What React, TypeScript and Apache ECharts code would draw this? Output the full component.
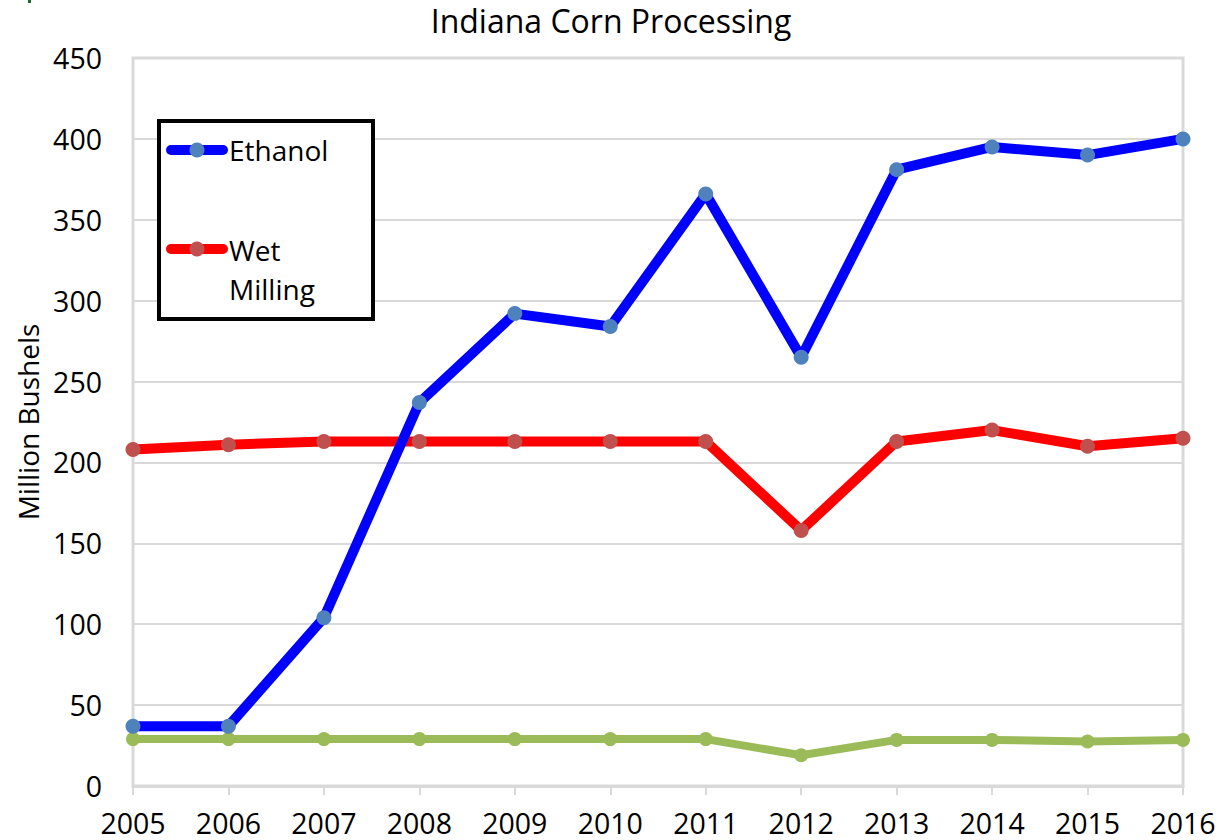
import React, { useEffect, useRef } from "react";
import * as echarts from "echarts";

const years = ["2005", "2006", "2007", "2008", "2009", "2010", "2011", "2012", "2013", "2014", "2015", "2016"];
const ethanol = [37, 37, 104, 237, 292, 284, 366, 265, 381, 395, 390, 400];
const wetMilling = [208, 211, 213, 213, 213, 213, 213, 158, 213, 220, 210, 215];
const other = [29, 29, 29, 29, 29, 29, 29, 19, 28.5, 28.5, 27.5, 28.5];
const seriesNames = ["Ethanol", "Wet Milling", "Other"];
const FONT = "'Open Sans', 'Noto Sans', sans-serif";

export default function App() {
  const ref = useRef<HTMLDivElement>(null);
  useEffect(() => {
    const chart = echarts.init(ref.current!, undefined, { renderer: "svg" });
    const gray = "#D9D9D9";
    chart.setOption({
      animation: false,
      backgroundColor: "#ffffff",
      textStyle: { fontFamily: FONT },
      title: {
        text: "Indiana Corn Processing",
        left: 606,
        textAlign: "center",
        top: -1,
        textStyle: { fontFamily: FONT, fontSize: 32, fontWeight: "normal", color: "#000" },
      },
      grid: {
        left: 133,
        right: 40,
        top: 58,
        bottom: 54,
        show: true,
        borderColor: gray,
        borderWidth: 3,
        containLabel: false,
      },
      xAxis: {
        type: "category",
        data: years,
        boundaryGap: false,
        axisLine: { lineStyle: { color: gray, width: 3 } },
        axisTick: { show: true, length: 9, lineStyle: { color: gray, width: 2 } },
        axisLabel: { color: "#000", fontSize: 28.5, fontFamily: FONT, margin: 22 },
        splitLine: { show: false },
      },
      yAxis: {
        type: "value",
        min: 0,
        max: 450,
        interval: 50,
        name: "Million Bushels",
        nameLocation: "middle",
        nameGap: 88,
        nameTextStyle: { color: "#000", fontSize: 28, fontFamily: FONT },
        axisLine: { show: false },
        axisTick: { show: false },
        axisLabel: { color: "#000", fontSize: 28.5, fontFamily: FONT, margin: 31 },
        splitLine: { lineStyle: { color: gray, width: 2 } },
      },
      series: [
        {
          name: seriesNames[0],
          type: "line",
          data: ethanol,
          symbol: "circle",
          symbolSize: 15,
          lineStyle: { color: "#0000FF", width: 10 },
          itemStyle: { color: "#4F81BD" },
          z: 3,
        },
        {
          name: seriesNames[1],
          type: "line",
          data: wetMilling,
          symbol: "circle",
          symbolSize: 15,
          lineStyle: { color: "#FF0000", width: 10 },
          itemStyle: { color: "#C0504D" },
          z: 2,
        },
        {
          name: seriesNames[2],
          type: "line",
          data: other,
          symbol: "circle",
          symbolSize: 14,
          lineStyle: { color: "#9BBB59", width: 8 },
          itemStyle: { color: "#9BBB59" },
          z: 2,
        },
      ],
      graphic: [
        { type: "rect", shape: { x: 28, y: 0, width: 3, height: 3 }, style: { fill: "#1E6B35" } },
        {
          type: "rect",
          z: 100,
          shape: { x: 159, y: 121, width: 214, height: 198 },
          style: { fill: "#fff", stroke: "#000", lineWidth: 4 },
        },
        {
          type: "line",
          z: 101,
          shape: { x1: 171, y1: 150, x2: 223, y2: 150 },
          style: { stroke: "#0000FF", lineWidth: 10, lineCap: "round" },
        },
        { type: "circle", z: 102, shape: { cx: 197, cy: 150, r: 7.5 }, style: { fill: "#4F81BD" } },
        {
          type: "text",
          z: 102,
          x: 229,
          y: 150,
          style: { text: seriesNames[0], fontSize: 28, fontFamily: FONT, fill: "#000", verticalAlign: "middle" },
        },
        {
          type: "line",
          z: 101,
          shape: { x1: 171, y1: 249, x2: 223, y2: 249 },
          style: { stroke: "#FF0000", lineWidth: 10, lineCap: "round" },
        },
        { type: "circle", z: 102, shape: { cx: 197, cy: 249, r: 7.5 }, style: { fill: "#C0504D" } },
        {
          type: "text",
          z: 102,
          x: 229,
          y: 230,
          style: {
            text: "Wet\nMilling",
            fontSize: 28,
            lineHeight: 39,
            fontFamily: FONT,
            fill: "#000",
            verticalAlign: "top",
          },
        },
      ],
    });
    return () => chart.dispose();
  }, []);
  return <div ref={ref} style={{ width: 1223, height: 840, position: "absolute", left: 0, top: 0 }} />;
}
